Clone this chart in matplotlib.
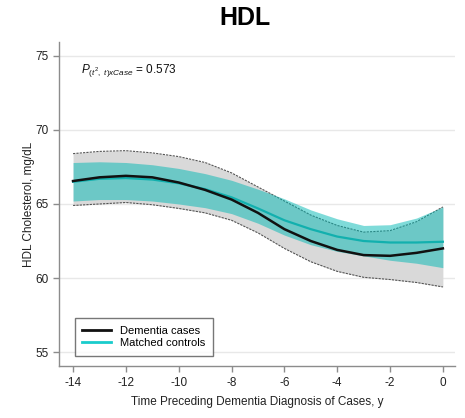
import numpy as np
import matplotlib
matplotlib.use("Agg")
import matplotlib.pyplot as plt
from matplotlib.lines import Line2D

plt.rcParams['font.family'] = ['Liberation Sans', 'DejaVu Sans']
plt.rcParams['mathtext.fontset'] = 'custom'
plt.rcParams['mathtext.rm'] = 'Liberation Sans'
plt.rcParams['mathtext.it'] = 'Liberation Sans:italic'

# --- данные ---
years = [-14, -13, -12, -11, -10, -9, -8, -7, -6, -5, -4, -3, -2, -1, 0]

cases_mean = [66.55, 66.8, 66.9, 66.8, 66.45, 65.95, 65.3, 64.4, 63.3, 62.5, 61.9, 61.55, 61.5, 61.7, 62.0]
cases_upper = [68.4, 68.55, 68.6, 68.45, 68.2, 67.8, 67.1, 66.15, 65.2, 64.25, 63.55, 63.1, 63.2, 63.8, 64.8]
cases_lower = [64.9, 65.0, 65.1, 64.95, 64.7, 64.4, 63.9, 63.05, 62.0, 61.1, 60.45, 60.05, 59.9, 59.7, 59.4]

controls_mean = [66.5, 66.7, 66.75, 66.65, 66.4, 66.0, 65.45, 64.7, 63.9, 63.3, 62.8, 62.5, 62.4, 62.4, 62.45]
controls_upper = [67.8, 67.85, 67.8, 67.65, 67.4, 67.05, 66.6, 66.0, 65.35, 64.6, 64.0, 63.55, 63.6, 64.05, 64.8]
controls_lower = [65.2, 65.3, 65.3, 65.2, 65.0, 64.75, 64.35, 63.7, 62.9, 62.25, 61.8, 61.5, 61.2, 61.0, 60.7]

xticks = [-14, -12, -10, -8, -6, -4, -2, 0]
yticks = [55, 60, 65, 70, 75]
p_value = 0.573

fig = plt.figure(figsize=(4.65, 4.18), dpi=100)
ax = fig.add_axes([0.127, 0.124, 0.851, 0.776])

# доверительные интервалы
ax.fill_between(years, cases_lower, cases_upper, color='#d9d9d9', lw=0, zorder=2)
ax.plot(years, cases_upper, color='#555555', lw=0.8, ls=(0, (2, 1)), zorder=3)
ax.plot(years, cases_lower, color='#555555', lw=0.8, ls=(0, (2, 1)), zorder=3)
ax.fill_between(years, controls_lower, controls_upper, color='#00b8b4', alpha=0.5, lw=0, zorder=4)

# средние
ax.plot(years, controls_mean, color='#12b0ae', lw=1.6, zorder=5)
ax.plot(years, cases_mean, color='#111111', lw=1.8, zorder=6)

ax.set_xlim(-14.53, 0.45)
ax.set_ylim(54.05, 75.95)
ax.set_xticks(xticks)
ax.set_yticks(yticks)
ax.set_xticklabels([str(t) for t in xticks])
ax.yaxis.grid(True, color='#e8e8e8', lw=1, zorder=0)
ax.set_axisbelow(True)

for s in ['top', 'right']:
    ax.spines[s].set_visible(False)
for s in ['left', 'bottom']:
    ax.spines[s].set_color('#8c8c8c')
    ax.spines[s].set_linewidth(1)
ax.tick_params(axis='both', colors='#8c8c8c', labelcolor='#222222', labelsize=8.5, length=4, width=1)
ax.tick_params(axis='x', pad=4)

ax.set_xlabel('Time Preceding Dementia Diagnosis of Cases, y', fontsize=8.5, color='#222222', labelpad=5)
ax.set_ylabel('HDL Cholesterol, mg/dL', fontsize=8.5, color='#222222')
ax.yaxis.set_label_coords(-0.062, 0.5)

fig.text(0.527, 0.958, 'HDL', fontsize=18, fontweight='bold', ha='center', va='center')

ax.text(0.055, 0.913, r'$P_{(t^{2},\ t)xCase}$' + f' = {p_value}', transform=ax.transAxes,
        fontsize=8.5, ha='left', va='center', color='#111111')

handles = [Line2D([0], [0], color='#111111', lw=2),
           Line2D([0], [0], color='#19cccc', lw=2)]
leg = ax.legend(handles, ['Dementia cases', 'Matched controls'], loc='lower left',
                bbox_to_anchor=(0.025, 0.015), fontsize=8, frameon=True, fancybox=False,
                handlelength=2.6, borderpad=0.7, labelspacing=0.2, handletextpad=0.8)
leg.get_frame().set_edgecolor('#555555')
leg.get_frame().set_linewidth(1)

fig.savefig('out.png', dpi=100)
